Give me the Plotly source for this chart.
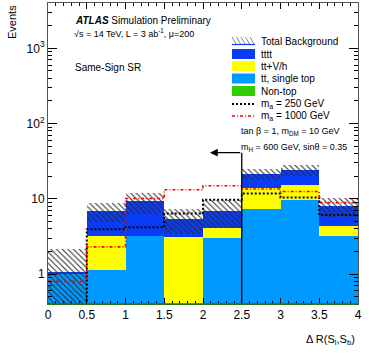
import numpy as np
import plotly.graph_objects as go

# ---------------- data ----------------
bin_edges = [0.0, 0.5, 1.0, 1.5, 2.0, 2.5, 3.0, 3.5, 4.0]
non_top = [0.02, 0.02, 0.02, 0.02, 0.02, 0.02, 0.02, 0.02]
tt_single_top = [1.0, 1.12, 3.2, 0.0, 2.96, 7.3, 9.6, 3.18]
ttV_h = [0.0, 2.08, 0.0, 3.1, 1.11, 6.4, 5.8, 1.12]
tttt = [0.06, 3.7, 6.0, 2.3, 2.83, 7.6, 8.7, 3.77]
bkg_unc = [1.07, 2.0, 2.9, 2.0, 2.8, 3.6, 4.0, 2.3]
sig_ma250 = [0.2, 3.95, 4.2, 6.4, 9.7, 11.8, 10.4, 6.1]
sig_ma1000 = [0.8, 2.3, 10.1, 13.2, 14.9, 13.5, 12.5, 8.9]
cut_value = 2.5
cut_arrow_end = 2.09
cut_height = 41.0

x_ticks = [0, 0.5, 1, 1.5, 2, 2.5, 3, 3.5, 4]
x_ticktext = ["0", "0.5", "1", "1.5", "2", "2.5", "3", "3.5", "4"]
y_ticks = [1, 10, 100, 1000]
y_ticktext = ["1", "10", "10<sup>2</sup>", "10<sup>3</sup>"]

# ---------------- style ----------------
FONT = "Liberation Sans, Arial, Helvetica, sans-serif"
C_TTTT = "#0a3cf5"
C_TTV = "#ffff00"
C_TT = "#0099ff"
C_NONTOP = "#33cc00"
DOT = "2px,2px"
DASHDOT = "3px,2px,1px,2px"

edges = np.array(bin_edges)
centers = 0.5 * (edges[:-1] + edges[1:])
widths = np.diff(edges)

fig = go.Figure()

base = np.zeros(len(centers))
stack = [(non_top, C_NONTOP, "Non-top"),
         (tt_single_top, C_TT, "tt, single top"),
         (ttV_h, C_TTV, "tt+V/h"),
         (tttt, C_TTTT, "tttt")]
for i, (vals, col, name) in enumerate(stack):
    vals = np.array(vals, dtype=float)
    kw = {} if i == 0 else {"base": base.copy()}
    fig.add_trace(go.Bar(x=centers, y=vals, width=widths, name=name,
                         marker=dict(color=col, line=dict(width=0)),
                         showlegend=False, **kw))
    base = base + vals

total = base
unc = np.array(bkg_unc)
low = np.maximum(total - unc, 1e-3)
high = total + unc
fig.add_trace(go.Bar(x=centers, y=high - low, base=low, width=widths,
                     name="Total Background",
                     marker=dict(color="rgba(0,0,0,0)", line=dict(width=0),
                                 pattern=dict(shape="\\", fgcolor="#2a2a2a",
                                              bgcolor="rgba(0,0,0,0)",
                                              size=4, solidity=0.25,
                                              fillmode="replace")),
                     showlegend=False))

def step(vals):
    return list(edges), list(vals) + [vals[-1]]

xs, ys = step(sig_ma250)
fig.add_trace(go.Scatter(x=xs, y=ys, mode="lines", line_shape="hv",
                         line=dict(color="black", width=2, dash=DOT),
                         showlegend=False))
xs, ys = step(sig_ma1000)
fig.add_trace(go.Scatter(x=xs, y=ys, mode="lines", line_shape="hv",
                         line=dict(color="#ff0000", width=1.6, dash=DASHDOT),
                         showlegend=False))

# cut line
fig.add_trace(go.Scatter(x=[cut_value, cut_value], y=[0.3, cut_height], mode="lines",
                         line=dict(color="black", width=1.3), showlegend=False))
fig.add_annotation(x=cut_arrow_end, y=np.log10(cut_height), ax=cut_value,
                   ay=np.log10(cut_height), xref="x", yref="y", axref="x", ayref="y",
                   text="", showarrow=True, arrowhead=2, arrowsize=1.2,
                   arrowwidth=1.3, arrowcolor="black")

# plot geometry in pixels
W, H = 369, 354
L, R, T, B = 48, 358, 3, 304
def px(x):
    return (x - L) / (R - L)
def py(y):
    return (B - y) / (B - T)

def txt(x, y, s, size, anchor="left", **kw):
    fig.add_annotation(x=px(x), y=py(y), xref="paper", yref="paper", text=s,
                       showarrow=False, xanchor=anchor, yanchor="middle",
                       font=dict(family=FONT, size=size, color="black"), **kw)

txt(73, 21, "<b><i>ATLAS</i></b> Simulation Preliminary", 10)
txt(72, 33, "√s = 14 TeV, L = 3 ab<sup>-1</sup>, μ=200", 9)
txt(73, 68, "Same-Sign SR", 10)

# legend (manual)
leg_y = [41, 54, 66, 78.5, 91, 104, 116]
bx0, bx1 = 232, 255
LEG_FS = 10
txt(259, leg_y[0], "Total Background", LEG_FS)
for j in range(5):
    xa = bx0 + j * 4.5
    fig.add_shape(type="line", xref="paper", yref="paper",
                  x0=px(xa), x1=px(xa + 4), y0=py(leg_y[0] - 4), y1=py(leg_y[0] + 3),
                  line=dict(color="#555555", width=0.7))
fig.add_shape(type="line", xref="paper", yref="paper", x0=px(bx0), x1=px(bx1),
              y0=py(leg_y[0] + 3.5), y1=py(leg_y[0] + 3.5), line=dict(color=C_TTTT, width=1.2))
for k, (lab, col) in enumerate([("tttt", C_TTTT), ("tt+V/h", C_TTV),
                                ("tt, single top", C_TT), ("Non-top", C_NONTOP)]):
    yy = leg_y[k + 1]
    fig.add_shape(type="rect", xref="paper", yref="paper", x0=px(bx0), x1=px(bx1),
                  y0=py(yy + 5), y1=py(yy - 5), fillcolor=col, line=dict(width=0))
    txt(259, yy, lab, LEG_FS)
fig.add_shape(type="line", xref="paper", yref="paper", x0=px(bx0), x1=px(bx1),
              y0=py(leg_y[5]), y1=py(leg_y[5]), line=dict(color="black", width=2, dash=DOT))
txt(259, leg_y[5], "m<sub>a</sub> = 250 GeV", LEG_FS)
fig.add_shape(type="line", xref="paper", yref="paper", x0=px(bx0), x1=px(bx1),
              y0=py(leg_y[6]), y1=py(leg_y[6]), line=dict(color="#ff0000", width=1.6, dash=DASHDOT))
txt(259, leg_y[6], "m<sub>a</sub> = 1000 GeV", LEG_FS)

txt(239, 131, "tan β = 1, m<sub>DM</sub> = 10 GeV", 9)
txt(239, 147, "m<sub>H</sub> = 600 GeV, sinθ = 0.35", 9)

# axis titles
txt(357, 340, "Δ R(S<sub>l</sub>,S<sub>b</sub>)", 11, anchor="right")
fig.add_annotation(x=px(12), y=py(22), xref="paper", yref="paper", text="Events",
                   showarrow=False, textangle=-90, xanchor="center", yanchor="middle",
                   font=dict(family=FONT, size=11, color="black"))

# green non-top outline along the bottom edge
fig.add_shape(type="line", xref="paper", yref="paper", x0=0, x1=1, y0=0, y1=0,
              line=dict(color="#1f7a00", width=1.5), layer="above")

y_minor = [m * 10.0 ** d for d in range(-1, 4) for m in range(2, 10)]
x_minor = [round(v, 1) for v in np.arange(0, 4.01, 0.1)]

fig.update_layout(
    width=W, height=H, margin=dict(l=L, r=W - R, t=T, b=H - B),
    paper_bgcolor="white", plot_bgcolor="white", barmode="overlay", bargap=0,
    font=dict(family=FONT, size=12, color="black"),
    xaxis=dict(range=[0, 4], tickmode="array", tickvals=x_ticks, ticktext=x_ticktext,
               ticks="inside", ticklen=6, tickwidth=1, tickcolor="black",
               showline=True, linecolor="#555555", linewidth=1, mirror="allticks",
               showgrid=False, zeroline=False,
               tickfont=dict(family=FONT, size=12),
               minor=dict(tickmode="array", tickvals=x_minor, ticks="inside",
                          ticklen=3, tickcolor="black", showgrid=False)),
    yaxis=dict(type="log", range=[np.log10(0.4), np.log10(4000)], tickmode="array",
               tickvals=y_ticks, ticktext=y_ticktext,
               ticks="inside", ticklen=9, tickwidth=1, tickcolor="black",
               showline=True, linecolor="#555555", linewidth=1, mirror="allticks",
               showgrid=False, zeroline=False,
               tickfont=dict(family=FONT, size=12),
               minor=dict(tickmode="array", tickvals=y_minor, ticks="inside",
                          ticklen=4, tickcolor="black", showgrid=False)),
)

fig.write_html("out.html", config={"displayModeBar": False},
               post_script="document.body.style.margin='0';document.body.style.padding='0';")
